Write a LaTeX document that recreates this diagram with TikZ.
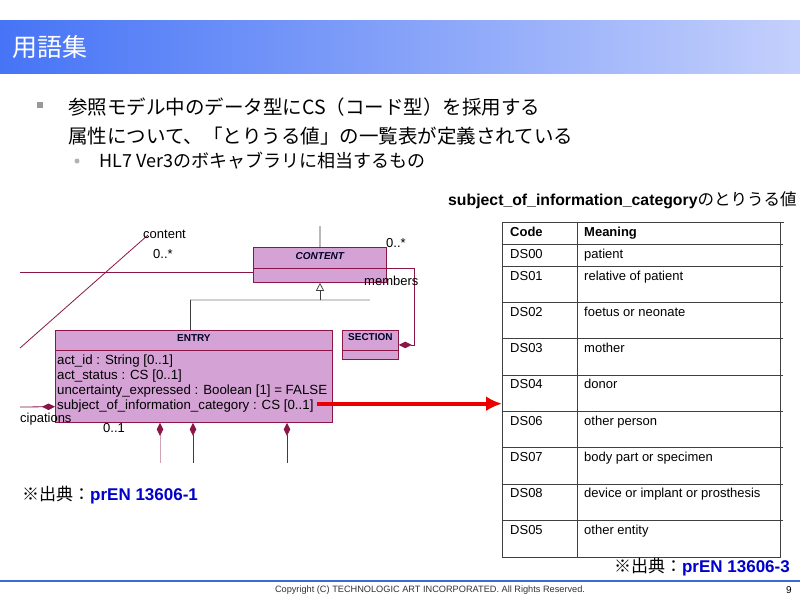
\documentclass[tikz,border=0pt]{standalone}
\usepackage{fontspec}
\setmainfont{Liberation Sans}
\newfontfamily\jpfont{Noto Sans CJK JP}
\usetikzlibrary{arrows.meta, positioning, calc}
\definecolor{barblue}{RGB}{70,116,246}
\definecolor{barlight}{RGB}{196,208,252}
\definecolor{umlfill}{RGB}{213,162,213}
\definecolor{umlline}{RGB}{138,22,72}
\definecolor{umlgray}{RGB}{60,60,60}
\definecolor{srcblue}{RGB}{0,0,205}
\definecolor{footblue}{RGB}{60,104,216}
\definecolor{arrowred}{RGB}{235,0,0}

\begin{document}
\begin{tikzpicture}[x=1pt, y=-1pt,
        umlbox/.style={rectangle, draw=umlline, fill=umlfill, line width=0.8pt,
                       inner sep=0pt, anchor=north west},
        umlname/.style={inner sep=0pt, text=black!85!blue,
                        font=\bfseries\fontsize{10}{12}\selectfont},
        attr/.style={anchor=north west, inner sep=0pt, text height=10.5pt, text depth=4.5pt,
                     font=\fontsize{13.3}{15}\selectfont},
        lbl/.style={anchor=west, inner sep=0pt, font=\fontsize{13}{15}\selectfont},
        assoc/.style={draw=umlline, line width=0.8pt},
        comp/.style={assoc, {Diamond[length=13pt, width=6.5pt]}-},
        gen/.style={draw=umlgray, line width=0.7pt},
        tblrule/.style={draw=black!75, line width=0.8pt},
        cell/.style={anchor=base west, inner sep=0pt, font=\fontsize{13}{15}\selectfont},
        jp/.style={anchor=west, inner sep=0pt, font=\jpfont\fontsize{#1}{#1}\selectfont},
        redarrow/.style={draw=arrowred, line width=4pt,
                         -{Latex[length=16pt, width=15pt]}},
    ]
    \useasboundingbox[fill=white] (0,0) rectangle (800,600);

    % Title bar
    \shade[left color=barblue, right color=barlight] (0,20) rectangle (800,73);
    \node[jp=25, text=white] (title) at (12,47) {用語集};

    % Bullets
    \node[fill=black!40, minimum size=6pt, inner sep=0pt] (sqbullet) at (40,105) {};
    \node[jp=19.5] (line1) at (68,107) {参照モデル中のデータ型にCS（コード型）を採用する};
    \node[jp=19.5] (line2) at (68,136) {属性について、「とりうる値」の一覧表が定義されている};
    \node[circle, fill=black!30, minimum size=5pt, inner sep=0pt] (dotbullet) at (77,161) {};
    \node[jp=18] (line3) at (99,161) {HL7 Ver3のボキャブラリに相当するもの};

    % UML classes
    \node[umlbox, minimum width=133pt, minimum height=35pt] (cont) at (253,247) {};
    \draw[assoc] ($(cont.north west)+(0,21)$) -- ($(cont.north east)+(0,21)$);
    \node[umlname, font=\bfseries\itshape\fontsize{10}{12}\selectfont]
        at ([yshift=-9pt]cont.north) {CONTENT};

    \node[umlbox, minimum width=56pt, minimum height=29pt] (sect) at (342,330) {};
    \draw[assoc] ($(sect.north west)+(0,20)$) -- ($(sect.north east)+(0,20)$);
    \node[umlname] at ([yshift=-7pt]sect.north) {SECTION};

    \node[umlbox, minimum width=277pt, minimum height=92pt] (entry) at (55,330) {};
    \draw[assoc] ($(entry.north west)+(0,20)$) -- ($(entry.north east)+(0,20)$);
    \node[umlname] at ([yshift=-8pt]entry.north) {ENTRY};
    \foreach \t [count=\i] in {act\_id : String [0..1], act\_status : CS [0..1],
            uncertainty\_expressed : Boolean [1] = FALSE,
            subject\_of\_information\_category : CS [0..1]}
        \node[attr] (attr\i) at (57,339+15*\i) {\t};

    % Generalization
    \coordinate (contup) at (320,226);
    \coordinate (genbar) at (320,300);
    \draw[gen] (contup) -- (cont.north);
    \draw[draw=black!18, line width=1.5pt] (190,300) -- (370,300);
    \draw[gen] ([xshift=-3.5pt]entry.north) -- ++(0,-30);
    \draw[gen, -{Triangle[open, length=8pt, width=8pt]}] (genbar) -- (genbar |- cont.south);

    % Associations
    \coordinate (contin) at (20,272);
    \coordinate (diagL) at (20,348);
    \coordinate (diagR) at (148,235);
    \coordinate (partin) at (20,407);
    \draw[assoc] (contin) -- (contin -| cont.west);
    \draw[assoc] (diagL) -- (diagR);
    \draw[comp] (sect.east) -- ++(16,0) |- ([yshift=-3.5pt]cont.east);
    \draw[comp] (entry.west |- attr4) -- (partin);
    \draw[assoc, draw=umlline!40, line width=0.6pt,
          {Diamond[length=13pt, width=6.5pt, color=umlline]}-]
        ([xshift=105pt]entry.south west) -- ++(0,40);
    \foreach \dx in {138,232}
        \draw[comp] ([xshift=\dx pt]entry.south west) -- ++(0,40);

    \node[lbl] (lcontent) at (143,234) {content};
    \node[lbl] (lmultA) at (153,254) {0..*};
    \node[lbl] (lmultB) at (386,243) {0..*};
    \node[lbl] (lmembers) at (364,281) {members};
    \node[lbl] (lcip) at (20,419) {cipations};
    \node[lbl] (lmultC) at (103,428) {0..1};

    % Code table
    \node[anchor=west, inner sep=0pt] (tbltitle) at (448,200)
        {\bfseries\fontsize{15.8}{18}\selectfont subject\_of\_information\_category%
         \mdseries\jpfont\fontsize{16.5}{18}\selectfont のとりうる値};
    \node[tblrule, minimum width=278pt, minimum height=335pt, anchor=north west,
          inner sep=0pt] (codetbl) at (502,222) {};
    \draw[tblrule] (codetbl.north east) -- ++(3,0);
    \draw[tblrule] (577,222) -- (577,557);
    \foreach \y in {244,266,302.33,338.67,375,411.33,447.67,484,520.33}
        \draw[tblrule] (502,\y) -- (783,\y);
    \node[cell, font=\bfseries\fontsize{13}{15}\selectfont] (hcode) at (510,236) {Code};
    \node[cell, font=\bfseries\fontsize{13}{15}\selectfont] (hmean) at (584,236) {Meaning};
    \foreach \dscode/\dsmean [count=\i from 0] in {DS00/patient, DS01/relative of patient,
            DS02/foetus or neonate, DS03/mother, DS04/donor, DS06/other person,
            DS07/body part or specimen, DS08/device or implant or prosthesis, DS05/other entity} {
        \pgfmathsetmacro{\rowtop}{\i==0 ? 244 : 266+36.33*(\i-1)}
        \node[cell] (code\i) at (510,\rowtop+14) {\dscode};
        \node[cell] (mean\i) at (584,\rowtop+14) {\dsmean};
    }

    \draw[redarrow] ([xshift=3pt, yshift=3pt]attr4.east) -- ([yshift=3pt]attr4.east -| codetbl.west);

    % Sources
    \node[anchor=west, inner sep=0pt] (srcA) at (22,495)
        {\jpfont\fontsize{17}{20}\selectfont ※出典：\textcolor{srcblue}{\normalfont\bfseries\fontsize{17}{20}\selectfont prEN 13606-1}};
    \node[anchor=east, inner sep=0pt] (srcB) at (790,567)
        {\jpfont\fontsize{17}{20}\selectfont ※出典：\textcolor{srcblue}{\normalfont\bfseries\fontsize{17}{20}\selectfont prEN 13606-3}};

    % Footer
    \draw[footblue, line width=2pt] (0,580.5) -- (800,580.5);
    \node[inner sep=0pt, text=black!80, font=\fontsize{9.2}{11}\selectfont] (copyright)
        at (430,590) {Copyright (C) TECHNOLOGIC ART INCORPORATED. All Rights Reserved.};
    \node[inner sep=0pt, font=\fontsize{10}{12}\selectfont] (pageno) at (789,590) {9};
\end{tikzpicture}
\end{document}
